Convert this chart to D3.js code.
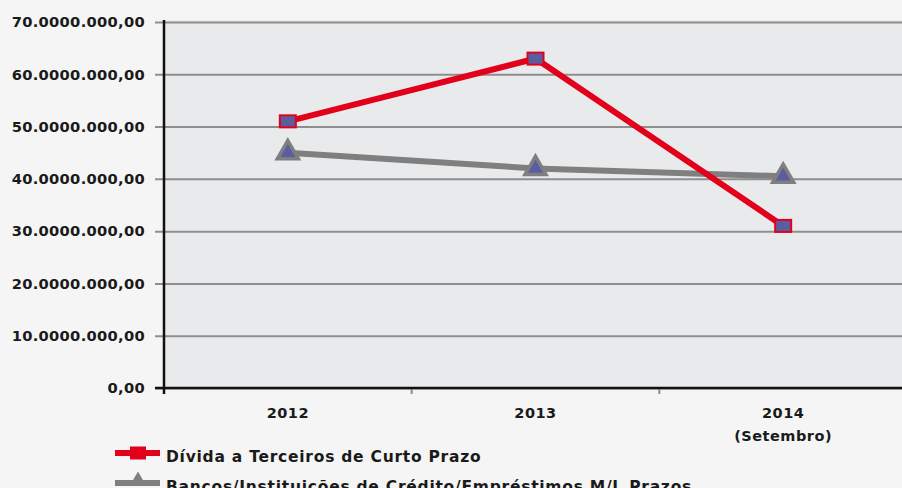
<!DOCTYPE html>
<html><head><meta charset="utf-8">
<script src="https://cdn.jsdelivr.net/npm/d3@7"></script>
<style>
html,body{margin:0;padding:0;background:#f4f5f4;}
svg{display:block;font-family:"DejaVu Sans",sans-serif;font-weight:bold;}
</style></head>
<body><svg id="c" width="902" height="488"></svg>
<script>
const categories = ["2012", "2013", "2014"];
const categoryLabels = [["2012"], ["2013"], ["2014", "(Setembro)"]];
const seriesNames = ["Dívida a Terceiros de Curto Prazo", "Bancos/Instituições de Crédito/Empréstimos M/L Prazos"];
const dividaCurtoPrazo = [51000000, 63000000, 31000000];
const bancosMLPrazos = [45000000, 42000000, 40500000];
const yTicks = [0, 10000000, 20000000, 30000000, 40000000, 50000000, 60000000, 70000000];
const yTickLabels = ["0,00", "10.0000.000,00", "20.0000.000,00", "30.0000.000,00", "40.0000.000,00", "50.0000.000,00", "60.0000.000,00", "70.0000.000,00"];

const svg = d3.select("#c");
const L = 164, R = 907, T = 22, B = 388;
const x = d3.scaleBand().domain(categories).range([L, R]);
const y = d3.scaleLinear().domain([0, 70000000]).range([B, T]);

// plot background
svg.append("rect").attr("x", L).attr("y", T - 2).attr("width", R - L).attr("height", B - T + 2).attr("fill", "#e9eaec");

// gridlines + y axis
const yAxis = d3.axisLeft(y).tickValues(yTicks).tickSize(-(R - L)).tickFormat((d, i) => yTickLabels[i]).tickPadding(19);
const gy = svg.append("g").attr("transform", `translate(${L},0)`).call(yAxis);
gy.select(".domain").remove();
gy.selectAll(".tick line").attr("x1", -9).attr("stroke", "#8e8e8e").attr("stroke-width", 2);
gy.selectAll(".tick text").attr("fill", "#1a1a1a").attr("font-size", 14.7).attr("font-weight", "bold")
  .attr("font-family", "DejaVu Sans, sans-serif").attr("letter-spacing", 0.3);

// x axis
const xAxis = d3.axisBottom(x).tickSize(0).tickFormat("");
const gx = svg.append("g").attr("transform", `translate(0,${B})`).call(xAxis);
gx.select(".domain").remove();
// band boundary ticks
svg.selectAll(".bt").data(categories.slice(1)).enter().append("line")
  .attr("x1", d => x(d)).attr("x2", d => x(d)).attr("y1", B).attr("y2", B + 6)
  .attr("stroke", "#8e8e8e").attr("stroke-width", 2);
svg.append("line").attr("x1", 155).attr("x2", 902).attr("y1", B).attr("y2", B).attr("stroke", "#111").attr("stroke-width", 2.5);
svg.append("line").attr("x1", L).attr("x2", L).attr("y1", T - 2).attr("y2", B + 6).attr("stroke", "#111").attr("stroke-width", 2.5);

const xl = svg.selectAll(".xl").data(categoryLabels).enter().append("text")
  .attr("text-anchor", "middle").attr("font-size", 14.5).attr("fill", "#1a1a1a").attr("letter-spacing", 0.5);
xl.each(function(lines, i) {
  const t = d3.select(this);
  lines.forEach((s, j) => t.append("tspan").attr("x", x(categories[i]) + x.bandwidth() / 2).attr("y", 418 + j * 23).text(s));
});

const cx = d => x(d) + x.bandwidth() / 2;
const line = d3.line().x((d, i) => cx(categories[i])).y(d => y(d));

// gray series
svg.append("path").datum(bancosMLPrazos).attr("d", line).attr("fill", "none").attr("stroke", "#7f7f7f").attr("stroke-width", 6);
const tri = d3.symbol().type(d3.symbolTriangle).size(190);
svg.selectAll(".tri").data(bancosMLPrazos).enter().append("path")
  .attr("d", tri).attr("transform", (d, i) => `translate(${cx(categories[i])},${y(d)})`)
  .attr("fill", "#5a5ea0").attr("stroke", "#7f7f7f").attr("stroke-width", 3.5).attr("stroke-linejoin", "miter");

// red series
svg.append("path").datum(dividaCurtoPrazo).attr("d", line).attr("fill", "none").attr("stroke", "#e3001b").attr("stroke-width", 6);
svg.selectAll(".sq").data(dividaCurtoPrazo).enter().append("rect")
  .attr("x", (d, i) => cx(categories[i]) - 8).attr("y", d => y(d) - 6).attr("width", 16).attr("height", 12)
  .attr("fill", "#5a5ea0").attr("stroke", "#e3001b").attr("stroke-width", 2);

// legend
const lg = svg.append("g");
const legendY = [453, 483];
const legendColors = ["#e3001b", "#7f7f7f"];
seriesNames.forEach((name, i) => {
  lg.append("line").attr("x1", 115).attr("x2", 160).attr("y1", legendY[i]).attr("y2", legendY[i])
    .attr("stroke", legendColors[i]).attr("stroke-width", 6);
  if (i === 0) {
    lg.append("rect").attr("x", 130).attr("y", legendY[i] - 6.5).attr("width", 16).attr("height", 13).attr("fill", legendColors[i]);
  } else {
    lg.append("path").attr("d", d3.symbol().type(d3.symbolTriangle).size(120)).attr("transform", `translate(138,${legendY[i] - 2})`).attr("fill", legendColors[i]);
  }
  lg.append("text").attr("x", 166).attr("y", legendY[i] + 9).attr("font-size", 15.5).attr("fill", "#1a1a1a")
    .attr("letter-spacing", 0.75).text(name);
});
</script></body></html>
